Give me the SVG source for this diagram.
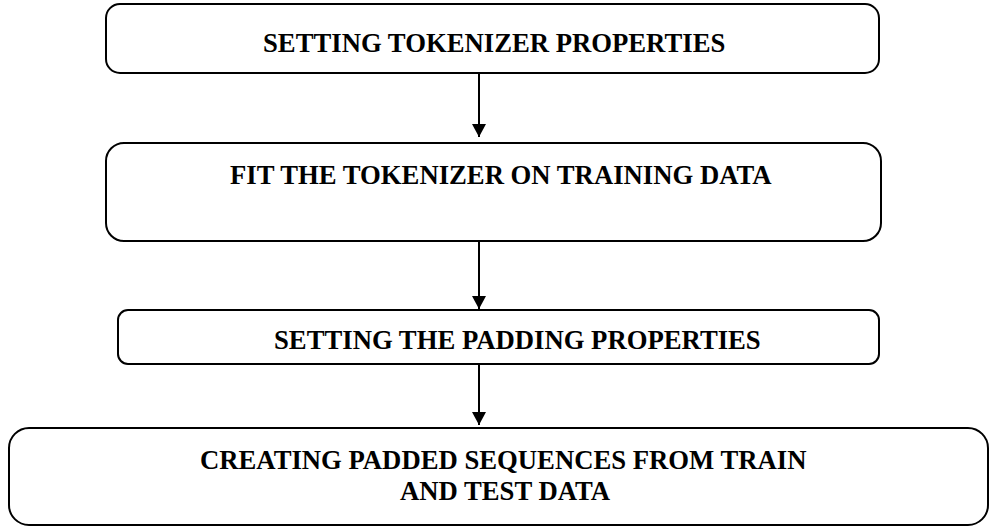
<svg xmlns="http://www.w3.org/2000/svg" width="989" height="527" viewBox="0 0 989 527">
  <defs>
    <marker id="arrow" markerUnits="userSpaceOnUse" markerWidth="14" markerHeight="14" refX="13" refY="7" orient="auto">
      <path d="M0,0 L13,7 L0,14 Z" fill="#000"/>
    </marker>
    <style>
      .box { fill: #fff; stroke: #000; stroke-width: 2; }
      .label { font-family: "Liberation Serif", "Times New Roman", serif; font-weight: bold; font-size: 26.7px; fill: #000; }
      .conn { stroke: #000; stroke-width: 2; fill: none; marker-end: url(#arrow); }
    </style>
  </defs>
  <rect width="989" height="527" fill="#fff"/>

  <g id="connectors">
    <line class="conn" x1="479" y1="73" x2="479" y2="137"/>
    <line class="conn" x1="479" y1="241" x2="479" y2="309"/>
    <line class="conn" x1="479" y1="364" x2="479" y2="425"/>
  </g>

  <g id="node-tokenizer-properties">
    <rect class="box" x="106" y="4" width="773" height="69" rx="14"/>
    <text class="label" x="263" y="52">SETTING TOKENIZER PROPERTIES</text>
  </g>

  <g id="node-fit-tokenizer">
    <rect class="box" x="106" y="143" width="775" height="98" rx="18"/>
    <text class="label" x="230" y="184">FIT THE TOKENIZER ON TRAINING DATA</text>
  </g>

  <g id="node-padding-properties">
    <rect class="box" x="118" y="310" width="761" height="54" rx="10"/>
    <text class="label" x="274" y="349">SETTING THE PADDING PROPERTIES</text>
  </g>

  <g id="node-padded-sequences">
    <rect class="box" x="9" y="428" width="979" height="97" rx="20"/>
    <text class="label" x="200" y="469">CREATING PADDED SEQUENCES FROM TRAIN</text>
    <text class="label" x="400" y="500">AND TEST DATA</text>
  </g>
</svg>
